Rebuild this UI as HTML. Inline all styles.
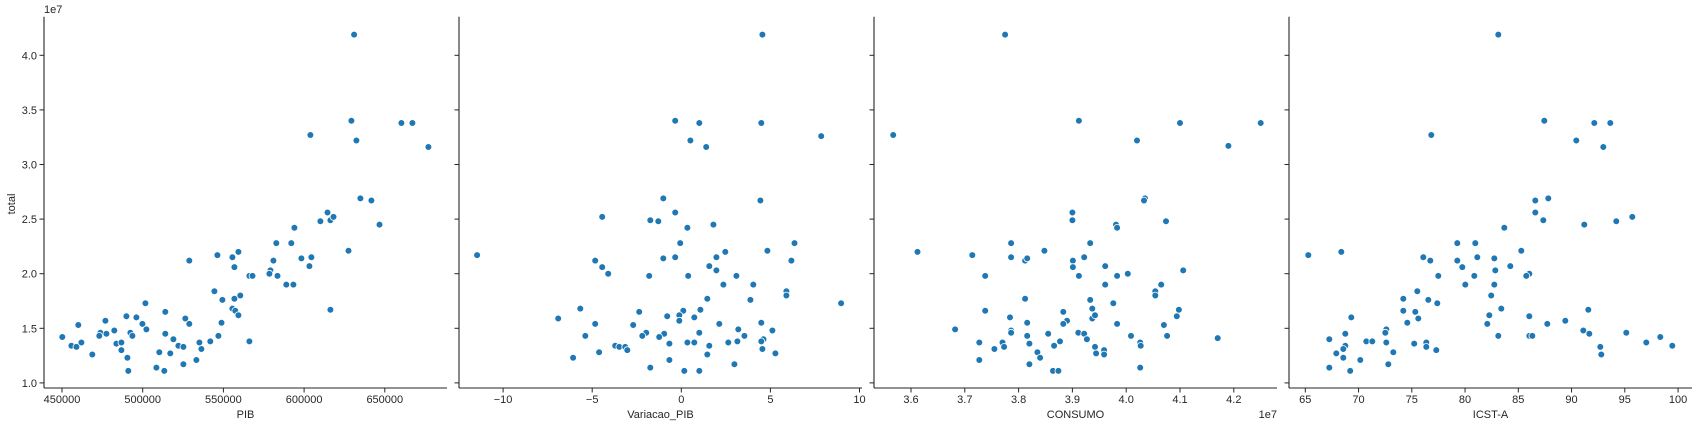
<!DOCTYPE html>
<html><head><meta charset="utf-8"><style>
html,body{margin:0;padding:0;background:#fff;}
svg{display:block;font-family:"Liberation Sans","DejaVu Sans",sans-serif;}
</style></head><body>
<svg id="chart" width="1697" height="427" viewBox="0 0 1697 427"></svg>
<script>
// total (1e7) shared axis
const yTicks = [1.0,1.5,2.0,2.5,3.0,3.5,4.0];
const yTickLabels = ["1.0","1.5","2.0","2.5","3.0","3.5","4.0"];
// Panel 1: PIB
const pibX = [631000,629300,660300,667100,603900,632400,634900,641700,614500,610100,616300,618200,646700,594000,582800,592100,627500,546300,555600,559300,528900,598300,604500,581000,556800,603300,579100,578500,583500,566100,568000,589000,593400,544400,560500,556800,549400,501700,555600,557400,616300,514000,559300,489900,496100,476900,526400,548800,499800,528900,460100,482400,502300,473800,492400,477500,514000,473100,493600,450200,546900,519000,462000,483700,486800,535100,541900,566100,455800,458900,522100,525200,536400,486800,510300,517100,468800,490500,533300,525200,508500,491100,513400,677000];
const pibY = [4.19,3.40,3.38,3.38,3.27,3.22,2.69,2.67,2.56,2.48,2.49,2.52,2.45,2.42,2.28,2.28,2.21,2.17,2.15,2.20,2.12,2.14,2.15,2.12,2.06,2.07,2.03,2.00,1.98,1.98,1.98,1.90,1.90,1.84,1.80,1.77,1.76,1.73,1.68,1.66,1.67,1.65,1.62,1.61,1.60,1.57,1.59,1.55,1.54,1.54,1.53,1.48,1.49,1.46,1.46,1.45,1.45,1.43,1.43,1.42,1.43,1.40,1.37,1.36,1.37,1.37,1.38,1.38,1.34,1.33,1.34,1.33,1.31,1.30,1.28,1.27,1.26,1.23,1.21,1.17,1.14,1.11,1.11,3.16];
const pibTicks = [450000,500000,550000,600000,650000];
// Panel 2: Variacao_PIB
const varX = [4.55,-0.34,1.01,4.49,0.51,-11.46,1.40,-1.01,4.44,-0.34,-4.44,-1.74,-1.29,0.34,1.80,-0.06,6.35,4.83,2.47,-4.83,-1.01,-0.34,1.97,6.18,-4.44,1.57,1.97,-4.10,-1.80,0.39,3.09,2.36,4.04,5.90,5.90,1.46,3.88,-5.67,-2.36,0.11,1.07,-6.91,-0.79,-0.11,-0.11,0.73,4.49,-4.83,-2.70,2.13,3.20,5.11,-1.97,-0.96,1.01,-5.39,-2.19,-1.24,3.54,4.61,4.49,-0.67,0.34,0.73,2.64,3.15,-3.71,-3.48,-3.15,-3.03,1.57,4.55,-4.61,1.46,5.28,-6.07,-0.67,2.98,-1.74,0.17,1.01,8.97,7.85];
const varY = [4.19,3.40,3.38,3.38,3.22,2.17,3.16,2.69,2.67,2.56,2.52,2.49,2.48,2.42,2.45,2.28,2.28,2.21,2.20,2.12,2.14,2.15,2.15,2.12,2.06,2.07,2.03,2.00,1.98,1.98,1.98,1.90,1.90,1.84,1.80,1.77,1.76,1.68,1.65,1.66,1.67,1.59,1.61,1.62,1.57,1.60,1.55,1.54,1.53,1.54,1.49,1.48,1.46,1.45,1.46,1.43,1.43,1.42,1.43,1.40,1.38,1.36,1.37,1.37,1.37,1.38,1.34,1.33,1.33,1.30,1.34,1.31,1.28,1.26,1.27,1.23,1.21,1.17,1.14,1.11,1.11,1.73,3.26];
const varTicks = [-10,-5,0,5,10];
// Panel 3: CONSUMO (1e7)
const conX = [3.775,3.567,3.912,4.100,4.020,4.035,4.033,3.900,3.900,3.981,3.983,4.074,3.786,3.933,3.848,3.612,3.714,3.786,3.812,3.816,3.901,3.922,3.901,3.961,4.106,4.003,3.738,3.912,3.983,3.961,4.065,4.054,4.054,3.812,3.933,3.976,3.738,3.883,3.937,4.098,3.784,3.890,3.937,3.942,4.094,3.816,3.883,3.983,4.070,3.682,3.786,3.786,3.855,3.911,3.922,3.816,4.009,4.076,3.927,3.727,3.770,3.820,3.877,4.026,4.027,3.773,3.866,3.942,3.755,3.959,3.835,3.944,3.959,3.840,3.727,3.820,4.026,3.864,3.874,4.25,4.19,4.17];
const conY = [4.19,3.27,3.40,3.38,3.22,2.69,2.67,2.56,2.49,2.45,2.42,2.48,2.28,2.28,2.21,2.20,2.17,2.15,2.12,2.14,2.12,2.15,2.06,2.07,2.03,2.00,1.98,1.98,1.98,1.90,1.90,1.84,1.80,1.77,1.76,1.73,1.66,1.65,1.68,1.67,1.60,1.57,1.59,1.62,1.61,1.55,1.54,1.54,1.53,1.49,1.48,1.46,1.45,1.46,1.45,1.43,1.43,1.43,1.40,1.37,1.37,1.36,1.38,1.37,1.34,1.33,1.34,1.33,1.31,1.30,1.28,1.27,1.26,1.23,1.21,1.17,1.14,1.11,1.11,3.38,3.17,1.41];
const conTicks = [3.6,3.7,3.8,3.9,4.0,4.1,4.2];
// Panel 4: ICST-A
const icsX = [83.12,87.44,76.83,86.60,87.82,86.60,87.35,83.69,79.27,80.96,85.28,65.28,68.38,76.08,76.74,79.27,81.15,82.75,79.74,84.25,82.84,77.49,80.87,86.03,85.75,80.02,82.75,75.52,82.46,74.20,76.55,77.39,83.40,74.20,75.33,82.28,86.03,89.41,69.32,75.61,74.58,82.09,87.72,72.61,68.76,72.51,83.12,86.03,86.31,67.25,70.73,71.29,72.61,75.23,76.36,68.76,68.57,76.36,77.30,67.91,73.26,68.57,70.16,72.79,67.25,69.22,92.14,93.64,90.45,92.98,91.20,94.20,95.70,91.57,91.10,91.67,95.14,92.70,92.79,97.02,98.33,99.46];
const icsY = [4.19,3.40,3.27,2.67,2.69,2.56,2.49,2.42,2.28,2.28,2.21,2.17,2.20,2.15,2.12,2.12,2.15,2.14,2.06,2.07,2.03,1.98,1.98,2.00,1.98,1.90,1.90,1.84,1.80,1.77,1.76,1.73,1.68,1.66,1.65,1.62,1.61,1.57,1.60,1.59,1.55,1.54,1.54,1.49,1.45,1.46,1.43,1.43,1.43,1.40,1.38,1.38,1.37,1.36,1.37,1.34,1.31,1.33,1.30,1.27,1.28,1.23,1.21,1.17,1.14,1.11,3.38,3.38,3.22,3.16,2.45,2.48,2.52,1.67,1.48,1.45,1.46,1.33,1.26,1.37,1.42,1.34];
const icsTicks = [65,70,75,80,85,90,95,100];

const NS="http://www.w3.org/2000/svg";
const svg=document.getElementById('chart');
function mk(tag,attrs,parent){const e=document.createElementNS(NS,tag);for(const k in attrs)e.setAttribute(k,attrs[k]);(parent||svg).appendChild(e);return e;}
const yScale=v=>55.3+(4.0-v)*109.2;
const TOP=16.7,BOT=388;
const panels=[
 {name:'pib',left:44,xs:pibX,ys:pibY,ticks:pibTicks,fmt:v=>String(v),sx:v=>62+(v-450000)/50000*80.7,label:'PIB'},
 {name:'variacao-pib',left:459,xs:varX,ys:varY,ticks:varTicks,fmt:v=>(v<0?'\u2212'+(-v):String(v)),sx:v=>681.3+v*17.82,label:'Variacao_PIB'},
 {name:'consumo',left:874,xs:conX,ys:conY,ticks:conTicks,fmt:v=>v.toFixed(1),sx:v=>911+(v-3.6)*538,label:'CONSUMO'},
 {name:'icst-a',left:1289,xs:icsX,ys:icsY,ticks:icsTicks,fmt:v=>String(v),sx:v=>1305.3+(v-65)*10.65,label:'ICST-A'}
];
panels.forEach((p,pi)=>{
 const g=mk('g',{});
 
 
 const right=p.left+403;
 // points
 const pts=mk('g',{},g);
 
 
 for(let i=0;i<p.xs.length;i++){
  const c=mk('circle',{cx:p.sx(p.xs[i]).toFixed(1),cy:yScale(p.ys[i]).toFixed(1),r:3.4,fill:'#1f77b4',stroke:'#fff','stroke-width':0.8},pts);
  
  
 }
 // spines
 const ls=mk('line',{x1:p.left,y1:TOP,x2:p.left,y2:BOT,stroke:'#262626','stroke-width':1.1},g);
 
 
 const bs=mk('line',{x1:p.left,y1:BOT,x2:right,y2:BOT,stroke:'#262626','stroke-width':1.1},g);
 
 
 // y ticks
 yTicks.forEach((t,ti)=>{
  const y=yScale(t);
  mk('line',{x1:p.left-4.5,y1:y,x2:p.left,y2:y,stroke:'#262626','stroke-width':1},g);
  if(pi===0){
   const tx=mk('text',{x:p.left-7,y:y+4,'font-size':11,fill:'#262626','text-anchor':'end'},g);
   tx.textContent=yTickLabels[ti];
   
   
  }
 });
 // x ticks
 p.ticks.forEach(t=>{
  const x=p.sx(t);
  mk('line',{x1:x,y1:BOT,x2:x,y2:BOT+4.5,stroke:'#262626','stroke-width':1},g);
  const tx=mk('text',{x:x,y:BOT+15,'font-size':11,fill:'#262626','text-anchor':'middle'},g);
  tx.textContent=p.fmt(t);
  
  
 });
 const lab=mk('text',{x:(p.left+right)/2,y:418,'font-size':11,fill:'#262626','text-anchor':'middle'},g);
 lab.textContent=p.label;
 
 
});
const off1=mk('text',{x:44,y:13,'font-size':11,fill:'#262626'});
off1.textContent='1e7';


const off3=mk('text',{x:1277,y:418,'font-size':11,fill:'#262626','text-anchor':'end'});
off3.textContent='1e7';


const yt=mk('text',{x:15,y:204,'font-size':11,fill:'#262626','text-anchor':'middle',transform:'rotate(-90 15 204)'});
yt.textContent='total';


</script>
</body></html>
